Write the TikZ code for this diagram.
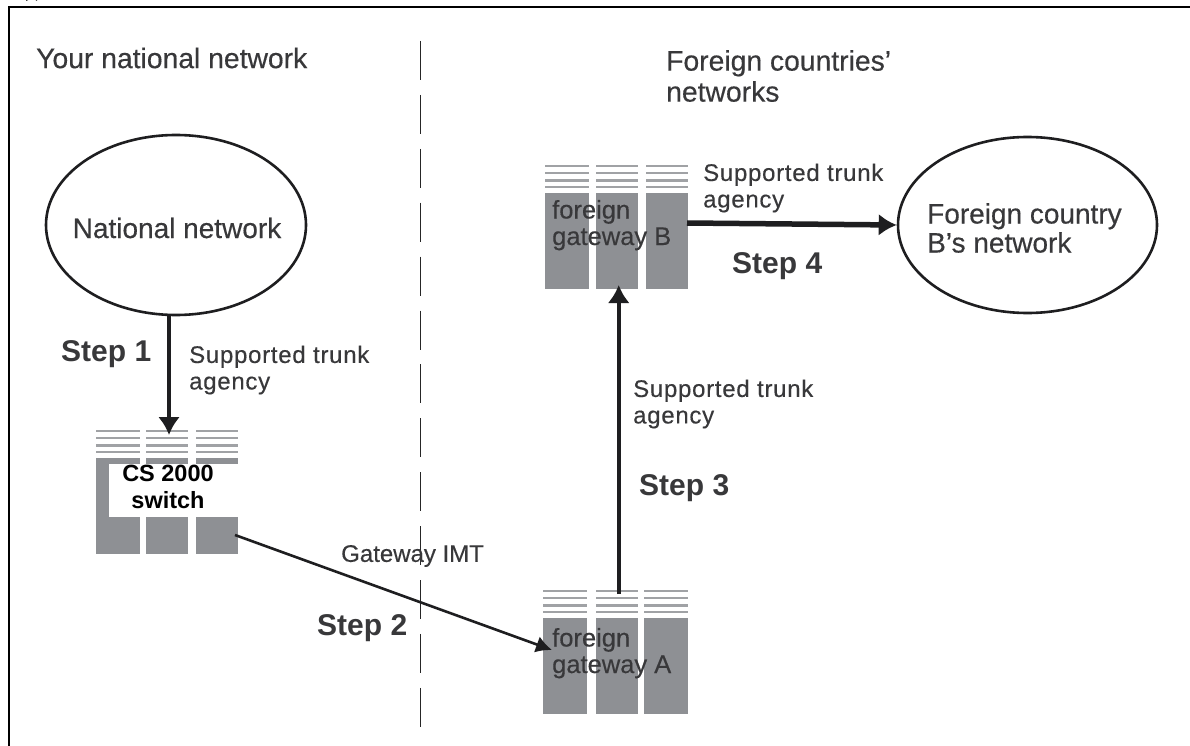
\documentclass[tikz,border=0pt]{standalone}
\usepackage{fontspec}
\setmainfont{Liberation Sans}
\newfontfamily\softfont[FakeBold=0.35]{Liberation Sans}
\newfontfamily\widefont[FakeBold=0.3,LetterSpace=3]{Liberation Sans}
\newfontfamily\plainfont[FakeBold=0.3]{Liberation Sans}
\usetikzlibrary{arrows.meta,shapes.geometric}
\definecolor{rackgray}{RGB}{142,144,148}
\definecolor{ruleg}{RGB}{160,162,165}
\definecolor{inkgray}{RGB}{56,56,58}
\definecolor{lineink}{RGB}{30,30,32}
\newcommand{\rackcol}[4]{%
  \foreach \d in {0,7,14.5,21}{\fill[ruleg] (#1,#3+\d-1.2) rectangle ++(#2,2.4);}
  \fill[rackgray] (#1,#4) rectangle ++(#2,96);
}
\tikzset{
  lbl/.style={font=\widefont\fontsize{24}{26.5}\selectfont, text=inkgray, align=left, inner sep=0pt, anchor=west},
  racklbl/.style={font=\softfont\fontsize{25.5}{26.5}\selectfont, text=inkgray, align=left, inner sep=0pt, anchor=base west},
  big/.style={font=\fontsize{30}{36}\selectfont\bfseries, text=inkgray, inner sep=0pt, anchor=west},
  head/.style={font=\softfont\fontsize{28.3}{31}\selectfont, text=inkgray, align=left, inner sep=0pt, anchor=west},
  blob/.style={draw=lineink, line width=2.6pt, ellipse},
  thick arrow/.style={draw=lineink, line width=4.6pt, -{Latex[length=18pt,width=22pt]}},
  thin arrow/.style={draw=lineink, line width=2.6pt, -{Latex[length=16pt,width=17pt]}},
}
\begin{document}
\begin{tikzpicture}[x=1pt,y=-1pt]
\useasboundingbox (0,0) rectangle (1190,746);
\fill[white] (0,0) rectangle (1190,746);
% frame
\draw[black,line width=2pt] (9,746) -- (9,7) -- (1190,7);
\draw[black,line width=2pt] (26,0) arc[start angle=200,end angle=340,x radius=6,y radius=3];
% divider
\coordinate (divtop) at (420.5,41);
\coordinate (divbot) at (420.5,728);
\draw[black!85,line width=1.6pt,dash pattern=on 39pt off 14.9pt] (divtop) -- (divbot);
% racks
\rackcol{96}{44}{431}{458}
\rackcol{146}{42}{431}{458}
\rackcol{196}{42}{431}{458}
\rackcol{543}{44}{591}{618}
\rackcol{596}{42}{591}{618}
\rackcol{644}{44}{591}{618}
\rackcol{545}{44}{166}{193}
\rackcol{596}{42}{166}{193}
\rackcol{646}{42}{166}{193}
% switch label
\node[fill=white, inner sep=0pt, minimum width=129pt, minimum height=53pt] (swbox) at (173.5,490.5) {};
\node[inner sep=0pt, align=center, font=\fontsize{23.5}{27}\selectfont\bfseries, text=black] (sw) at (168,487) {CS 2000\\switch};
\coordinate (swt) at (169,435);
\coordinate (swr) at (235,535);
\coordinate (gwa) at (552,650);
\coordinate (gwat) at (618.7,594);
\coordinate (gwb) at (618.7,285);
\coordinate (gwbr) at (687,223);
% rack labels
\node[racklbl] (la) at (552,673) {foreign\\gateway A};
\node[racklbl] (lb) at (552,245) {foreign\\gateway B};
% clouds
\node[blob, minimum width=260pt, minimum height=180pt] (nat) at (176,225) {};
\node[blob, minimum width=259pt, minimum height=176pt] (forb) at (1027.5,225) {};
\node[font=\softfont\fontsize{28}{31}\selectfont, text=inkgray, inner sep=0pt] (natl) at (177,228) {National network};
\node[font=\softfont\fontsize{28}{29}\selectfont, text=inkgray, align=left, inner sep=0pt, anchor=west] (forl) at (927,228) {Foreign country\\B’s network};
% arrows
\draw[thick arrow] (nat.south -| swt) -- (swt);
\draw[thin arrow] (swr) -- (gwa);
\draw[thick arrow,line width=4pt] (gwat) -- (gwb);
\draw[thick arrow,line width=5.5pt] (gwbr) -- (forb.west);
% headings
\node[head] (h1) at (36,58) {Your national network};
\node[head] (h2) at (666,76) {Foreign countries’\\networks};
% labels
\node[big] (s1) at (61,354) {Step 1};
\node[big] (s2) at (317,628) {Step 2};
\node[big] (s3) at (639,488) {Step 3};
\node[big] (s4) at (732,266) {Step 4};
\node[lbl] (t1) at (189,370) {Supported trunk\\agency};
\node[lbl,font=\plainfont\fontsize{24}{27}\selectfont] (t2) at (341,556) {Gateway IMT};
\node[lbl] (t3) at (633,404) {Supported trunk\\agency};
\node[lbl] (t4) at (703,188) {Supported trunk\\agency};
\end{tikzpicture}
\end{document}
